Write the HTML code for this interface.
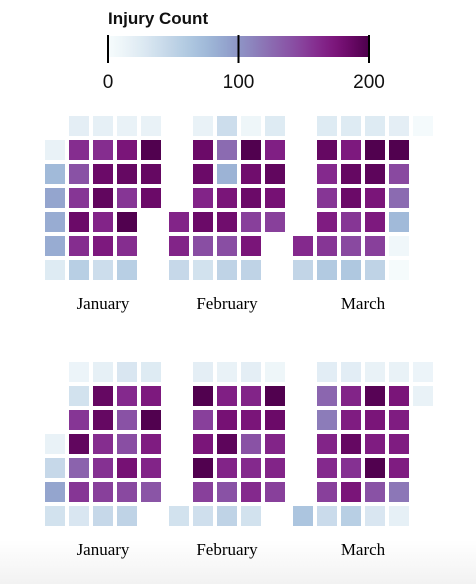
<!DOCTYPE html>
<html><head><meta charset="utf-8"><style>
html,body{margin:0;padding:0;background:#fff;}
body{width:476px;height:584px;overflow:hidden;background:linear-gradient(to bottom,#fff 0,#fff 540px,#f2f2f2 584px);}
svg{display:block;}
</style></head><body>
<svg id="chart" width="476" height="584">
<defs><linearGradient id="bupu" x1="0" x2="1" y1="0" y2="0"></linearGradient></defs>
<g>
<text x="108" y="24" font-family="Liberation Sans, sans-serif" font-weight="bold" font-size="17" fill="#111">Injury Count</text>
<rect x="108" y="36" width="261" height="21" fill="url(#bupu)"/>
<g id="legendTicks"></g>
</g>
<g id="cells"></g>
<g id="labels"></g>
</svg>
<script>
const legendTicks = [0, 100, 200];
const years = ["2024", "2025"];
const monthNames = ["January", "February", "March"];
const startWeekday2024 = [1, 4, 5];
const startWeekday2025 = [3, 6, 6];
const jan2024 = [15,75,90,85,85,25, 20,160,140,155,185,160,55, 18,160,185,190,165,172,40, 15,175,188,155,198,160,55, 15,198,188,185];
const feb2024 = [165,165,45, 15,185,185,165,185,142,35, 40,125,80,175,182,142,50, 10,198,182,185,150,175,50, 25,168,190,178,150];
const mar2024 = [162,48, 25,188,162,155,170,155,60, 25,172,188,185,155,145,62, 25,198,192,175,172,150,50, 20,198,145,125,75,8,2, 3];
const jan2025 = [15,45,90,35, 12,35,155,190,130,155,30, 18,188,188,160,158,150,45, 30,162,140,142,178,145,50, 25,172,198,170,165,138];
const feb2025 = [35, 20,198,150,175,198,150,38, 15,168,178,192,165,140,50, 20,165,175,140,162,162,35, 10,198,185,165,165,150];
const mar2025 = [65, 22,128,115,165,162,150,42, 22,165,170,188,158,175,55, 15,195,175,170,198,140,30, 15,175,170,170,170,118,18, 12,15];

const NS = "http://www.w3.org/2000/svg";
const stops = ["#f7fcfd","#e0ecf4","#bfd3e6","#9ebcda","#8c96c6","#8c6bb1","#88419d","#810f7c","#4d004b"];
function hex(c){return [1,3,5].map(i=>parseInt(c.substr(i,2),16));}
const rgbStops = stops.map(hex);
function basis(t1,v0,v1,v2,v3){const t2=t1*t1,t3=t2*t1;return ((1-3*t1+3*t2-t3)*v0+(4-6*t2+3*t3)*v1+(1+3*t1+3*t2-3*t3)*v2+t3*v3)/6;}
function basisInterp(vals,t){
  const n=vals.length-1;let i;
  if(t<=0){t=0;i=0;}else if(t>=1){t=1;i=n-1;}else i=Math.floor(t*n);
  const v1=vals[i],v2=vals[i+1],v0=i>0?vals[i-1]:2*v1-v2,v3=i<n-1?vals[i+2]:2*v2-v1;
  return basis((t-i/n)*n,v0,v1,v2,v3);
}
function colorT(t){
  const c=[0,1,2].map(k=>Math.max(0,Math.min(255,Math.round(basisInterp(rgbStops.map(s=>s[k]),t)))));
  return "rgb("+c.join(",")+")";
}
function color(v){return colorT(Math.max(0,Math.min(1,v/200)));}
const grad=document.getElementById("bupu");
for(let i=0;i<=40;i++){
  const s=document.createElementNS(NS,"stop");
  s.setAttribute("offset",i/40);s.setAttribute("stop-color",colorT(i/40));
  grad.appendChild(s);
}
const legendX = v => 108 + v/200*261;
const lt = document.getElementById("legendTicks");
legendTicks.forEach(v=>{
  const l = document.createElementNS(NS,"line");
  l.setAttribute("x1",legendX(v)); l.setAttribute("x2",legendX(v));
  l.setAttribute("y1",35); l.setAttribute("y2",63);
  l.setAttribute("stroke","#000"); l.setAttribute("stroke-width","2");
  
  
  lt.appendChild(l);
  const t = document.createElementNS(NS,"text");
  t.setAttribute("x",legendX(v)); t.setAttribute("y",88);
  t.setAttribute("text-anchor","middle"); t.setAttribute("font-family","Liberation Sans, sans-serif");
  t.setAttribute("font-size","19"); t.setAttribute("fill","#111");
  t.textContent = v;
  
  
  lt.appendChild(t);
});

const panels = [
  {top:116, starts:startWeekday2024, data:[jan2024,feb2024,mar2024], labelY:309},
  {top:362, starts:startWeekday2025, data:[jan2025,feb2025,mar2025], labelY:555}
];
const cellsG = document.getElementById("cells");
const labelsG = document.getElementById("labels");
panels.forEach((p,pi)=>{
  p.data.forEach((vals,m)=>{
    const mx = 45 + m*124;
    let maxCol = 0;
    vals.forEach((v,d)=>{
      const idx = d + p.starts[m];
      const col = Math.floor(idx/7), row = idx%7;
      maxCol = Math.max(maxCol,col);
      const r = document.createElementNS(NS,"rect");
      r.setAttribute("x", mx + col*24); r.setAttribute("y", p.top + row*24);
      r.setAttribute("width",20); r.setAttribute("height",20);
      r.setAttribute("fill", color(v));
      
      
      cellsG.appendChild(r);
    });
    const t = document.createElementNS(NS,"text");
    t.setAttribute("x", mx + ((maxCol+1)*24-4)/2); t.setAttribute("y", p.labelY);
    t.setAttribute("text-anchor","middle"); t.setAttribute("font-family","Liberation Serif, serif");
    t.setAttribute("font-size","17"); t.setAttribute("fill","#000");
    t.textContent = monthNames[m];
    
    
    labelsG.appendChild(t);
  });
});
</script>
</body></html>
